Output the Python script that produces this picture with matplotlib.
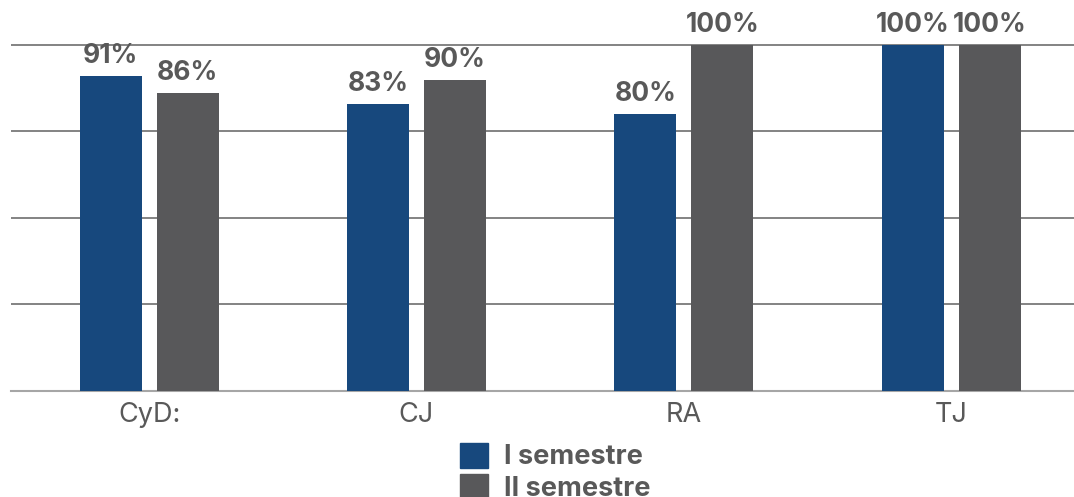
import matplotlib
matplotlib.use("Agg")
import matplotlib.pyplot as plt
from matplotlib.patches import Patch
import numpy as np

categories = ["CyD:", "CJ", "RA", "TJ"]
sem1 = [91, 83, 80, 100]
sem2 = [86, 90, 100, 100]
series_names = ["I semestre", "II semestre"]

BLUE = "#17487D"
GRAY = "#58585A"
TEXT = "#595959"

plt.rcParams["font.family"] = ["Inter", "DejaVu Sans"]

W, H = 1074, 497
fig = plt.figure(figsize=(W / 100, H / 100), dpi=100)
ax = fig.add_axes([11 / W, 1 - 391 / H, (1074 - 11) / W, 391 / H])

x = np.arange(len(categories))
width = 0.232
off = 0.144
b1 = ax.bar(x - off, sem1, width, color=BLUE, zorder=3)
b2 = ax.bar(x + off, sem2, width, color=GRAY, zorder=3)

for bars, vals in ((b1, sem1), (b2, sem2)):
    for rect, v in zip(bars, vals):
        ax.annotate(f"{v}%", (rect.get_x() + rect.get_width() / 2, v),
                    xytext=(0, 5), textcoords="offset points",
                    ha="center", va="bottom", fontsize=19,
                    fontweight="bold", color=TEXT, zorder=4)

ax.set_xlim(-0.517, 3.46)
ax.set_ylim(0, 113)
ax.set_yticks([0, 25, 50, 75, 100])
ax.yaxis.grid(True, color="#6E6E6E", linewidth=1.2, zorder=0)
ax.tick_params(axis="y", left=False, labelleft=False)
ax.set_xticks(x)
ax.set_xticklabels(categories, fontsize=19.5, color=TEXT)
ax.tick_params(axis="x", length=0, pad=8)
for s in ("top", "right", "left"):
    ax.spines[s].set_visible(False)
ax.spines["bottom"].set_color("#A6A6A6")
ax.spines["bottom"].set_linewidth(1.5)
ax.set_axisbelow(True)

handles = [Patch(color=BLUE), Patch(color=GRAY)]
leg = fig.legend(handles, series_names, loc="upper left",
                 bbox_to_anchor=(446 / W, 1 - 429 / H), frameon=False,
                 handlelength=1.05, handleheight=1.05, handletextpad=0.6,
                 labelspacing=0.15, borderpad=0.0,
                 prop={"size": 19.5, "weight": "bold"})
for t in leg.get_texts():
    t.set_color(TEXT)

fig.savefig("out.png", dpi=100)
